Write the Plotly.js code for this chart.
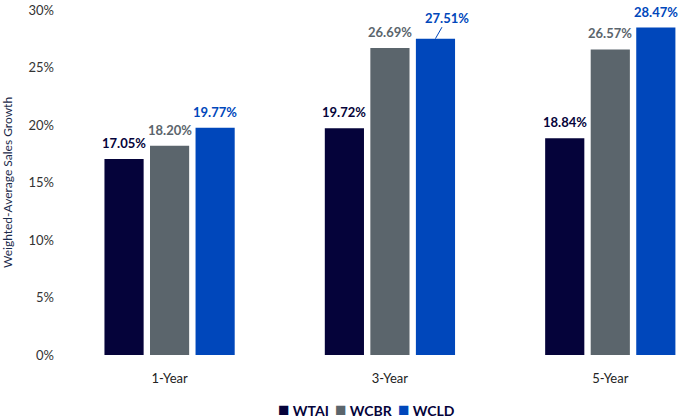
<!DOCTYPE html>
<html>
<head>
<meta charset="utf-8">
<script src="https://cdn.plot.ly/plotly-3.0.1.min.js"></script>
<style>
  html, body { margin: 0; padding: 0; background: #fff; }
  #chart { width: 686px; height: 420px; }
</style>
</head>
<body>
<div id="chart"></div>
<script>
const periods = ['1-Year', '3-Year', '5-Year']
const seriesNames = ['WTAI', 'WCBR', 'WCLD']
const wtai = [17.05, 19.72, 18.84]
const wcbr = [18.20, 26.69, 26.57]
const wcld = [19.77, 27.51, 28.47]
const yTicks = [0, 5, 10, 15, 20, 25, 30]
const colors = ['#05033a', '#5b656c', '#0047bb']

const font = 'Lato, "Open Sans", sans-serif'
const slot = 45.5 // px between bar centres inside a group
const legendX = [0.352, 0.443, 0.543] // left edge of each legend entry (paper)

// label for 3-Year WCLD is drawn as a callout, not above the bar
const callout = { series: 2, index: 1 }

const values = [wtai, wcbr, wcld]
const data = values.map((vals, s) => ({
  type: 'bar',
  name: seriesNames[s],
  x: periods,
  y: vals,
  marker: { color: colors[s] },
  hoverinfo: 'skip'
}))

const annotations = []
values.forEach((vals, s) => {
  vals.forEach((v, i) => {
    const isCallout = s === callout.series && i === callout.index
    const a = {
      x: periods[i],
      y: v,
      xref: 'x',
      yref: 'y',
      xshift: (s - 1) * slot,
      text: v.toFixed(2) + '%',
      font: { family: font, size: 13, color: colors[s], weight: 'bold' }
    }
    if (isCallout) {
      Object.assign(a, {
        showarrow: true,
        arrowhead: 0,
        arrowwidth: 1,
        arrowcolor: colors[s],
        ax: 12,
        ay: -21
      })
    } else {
      Object.assign(a, { showarrow: false, yanchor: 'bottom', yshift: 6 })
    }
    annotations.push(a)
  })
})

// compact legend row (the built-in legend spaces entries too widely)
seriesNames.forEach((n, s) => {
  annotations.push({
    xref: 'paper',
    yref: 'paper',
    x: legendX[s],
    y: -0.155,
    xanchor: 'left',
    yanchor: 'middle',
    showarrow: false,
    text: `<span style="color:${colors[s]};font-size:19px">■</span> ${n}`,
    font: { family: font, size: 14, color: '#05033a', weight: 'bold' }
  })
})

const layout = {
  width: 686,
  height: 420,
  margin: { l: 55, r: 3, t: 10, b: 65 },
  paper_bgcolor: '#fff',
  plot_bgcolor: '#fff',
  barmode: 'group',
  bargap: 0.38,
  bargroupgap: 0.14,
  showlegend: false,
  xaxis: {
    range: [-0.52, 2.33],
    showgrid: false,
    zeroline: false,
    showline: false,
    ticks: '',
    ticklabelstandoff: 14,
    tickfont: { family: font, size: 13, color: '#222' }
  },
  yaxis: {
    range: [0, 30],
    tickvals: yTicks,
    ticktext: yTicks.map(t => t + '%'),
    showgrid: false,
    zeroline: false,
    showline: false,
    ticks: '',
    tickfont: { family: font, size: 13, color: '#333' },
    title: {
      text: 'Weighted-Average Sales Growth',
      font: { family: font, size: 12, color: '#1a2a4a' },
      standoff: 14
    }
  },
  annotations: annotations
}

Plotly.newPlot('chart', data, layout, { displayModeBar: false, staticPlot: true })
</script>
</body>
</html>
